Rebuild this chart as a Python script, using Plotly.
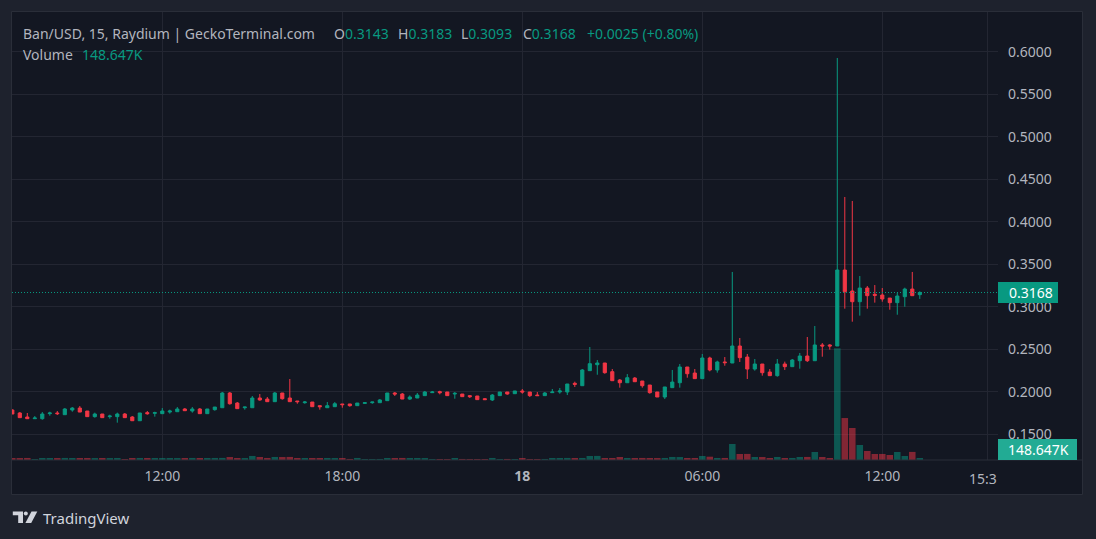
import plotly.graph_objects as go
import pandas as pd

# ---------------- data (15-minute candles, Ban/USD) ----------------
bar_times = pd.date_range("2024-06-17 07:00", periods=122, freq="15min")

opens = [
    0.1786, 0.1751, 0.1704, 0.1684, 0.1684, 0.1743, 0.1751, 0.1731, 0.1786, 0.1809,
    0.1774, 0.1708, 0.1739, 0.1708, 0.1708, 0.1739, 0.1704, 0.1660, 0.1755, 0.1747,
    0.1743, 0.1762, 0.1766, 0.1798, 0.1774, 0.1798, 0.1743, 0.1790, 0.1813, 0.1986,
    0.1868, 0.1813, 0.1813, 0.1927, 0.1915, 0.1884, 0.1986, 0.1927, 0.1892, 0.1872,
    0.1880, 0.1837, 0.1813, 0.1825, 0.1857, 0.1857, 0.1837, 0.1864, 0.1872, 0.1872,
    0.1896, 0.1986, 0.1974, 0.1915, 0.1927, 0.1955, 0.1990, 0.2002, 0.1998, 0.1974,
    0.1974, 0.1955, 0.1951, 0.1919, 0.1904, 0.1955, 0.1998, 0.1978, 0.2010, 0.1998,
    0.1962, 0.1955, 0.1990, 0.1998, 0.1998, 0.2100, 0.2072, 0.2249, 0.2319, 0.2339,
    0.2237, 0.2139, 0.2107, 0.2162, 0.2127, 0.2080, 0.1998, 0.1939, 0.2049, 0.2107,
    0.2292, 0.2221, 0.2155, 0.2398, 0.2257, 0.2351, 0.2339, 0.2539, 0.2409, 0.2268,
    0.2327, 0.2233, 0.2190, 0.2327, 0.2296, 0.2366, 0.2421, 0.2366, 0.2551, 0.2551,
    0.2539, 0.3433, 0.3186, 0.3060, 0.3221, 0.3147, 0.3139, 0.3103, 0.3049, 0.3119,
    0.3209, 0.3143,
]
highs = [
    0.1794, 0.1762, 0.1751, 0.1715, 0.1762, 0.1766, 0.1774, 0.1809, 0.1821, 0.1833,
    0.1774, 0.1755, 0.1739, 0.1731, 0.1755, 0.1751, 0.1715, 0.1751, 0.1774, 0.1766,
    0.1809, 0.1790, 0.1821, 0.1809, 0.1821, 0.1809, 0.1798, 0.1821, 0.1998, 0.1998,
    0.1880, 0.1821, 0.1951, 0.1974, 0.1939, 0.1998, 0.1986, 0.2151, 0.1892, 0.1892,
    0.1880, 0.1837, 0.1880, 0.1880, 0.1857, 0.1857, 0.1868, 0.1880, 0.1880, 0.1915,
    0.1986, 0.1998, 0.1986, 0.1958, 0.1986, 0.2010, 0.2010, 0.2013, 0.1998, 0.1998,
    0.1974, 0.1962, 0.1951, 0.1927, 0.1974, 0.1998, 0.1998, 0.2010, 0.2033, 0.1998,
    0.1998, 0.1998, 0.2033, 0.2045, 0.2092, 0.2119, 0.2268, 0.2527, 0.2374, 0.2339,
    0.2268, 0.2151, 0.2209, 0.2174, 0.2127, 0.2080, 0.1998, 0.2057, 0.2257, 0.2327,
    0.2292, 0.2268, 0.2445, 0.2413, 0.2366, 0.2409, 0.3410, 0.2633, 0.2445, 0.2386,
    0.2327, 0.2268, 0.2386, 0.2355, 0.2386, 0.2457, 0.2645, 0.2774, 0.2574, 0.2562,
    0.5927, 0.4292, 0.4245, 0.3362, 0.3245, 0.3256, 0.3221, 0.3103, 0.3166, 0.3225,
    0.3410, 0.3183,
]
lows = [
    0.1739, 0.1696, 0.1684, 0.1684, 0.1672, 0.1719, 0.1727, 0.1731, 0.1766, 0.1762,
    0.1708, 0.1696, 0.1696, 0.1684, 0.1637, 0.1696, 0.1660, 0.1660, 0.1731, 0.1708,
    0.1743, 0.1743, 0.1766, 0.1778, 0.1755, 0.1743, 0.1743, 0.1778, 0.1813, 0.1849,
    0.1802, 0.1790, 0.1813, 0.1896, 0.1884, 0.1884, 0.1908, 0.1884, 0.1860, 0.1860,
    0.1825, 0.1790, 0.1813, 0.1825, 0.1813, 0.1825, 0.1837, 0.1860, 0.1860, 0.1872,
    0.1896, 0.1951, 0.1915, 0.1904, 0.1927, 0.1955, 0.1990, 0.1970, 0.1955, 0.1919,
    0.1943, 0.1927, 0.1908, 0.1908, 0.1892, 0.1955, 0.1966, 0.1978, 0.1978, 0.1939,
    0.1955, 0.1955, 0.1990, 0.1978, 0.1962, 0.2057, 0.2072, 0.2249, 0.2201, 0.2213,
    0.2131, 0.2049, 0.2107, 0.2119, 0.2049, 0.1978, 0.1939, 0.1915, 0.2049, 0.2049,
    0.2166, 0.2155, 0.2155, 0.2241, 0.2225, 0.2307, 0.2339, 0.2351, 0.2151, 0.2249,
    0.2190, 0.2190, 0.2178, 0.2257, 0.2296, 0.2272, 0.2351, 0.2366, 0.2413, 0.2496,
    0.2539, 0.2978, 0.2825, 0.2896, 0.2978, 0.3049, 0.3060, 0.2966, 0.2907, 0.3001,
    0.3131, 0.3093,
]
closes = [
    0.1739, 0.1696, 0.1684, 0.1692, 0.1739, 0.1751, 0.1743, 0.1798, 0.1809, 0.1762,
    0.1708, 0.1739, 0.1696, 0.1715, 0.1739, 0.1696, 0.1660, 0.1751, 0.1743, 0.1755,
    0.1774, 0.1774, 0.1798, 0.1778, 0.1798, 0.1743, 0.1798, 0.1821, 0.1986, 0.1860,
    0.1802, 0.1821, 0.1927, 0.1904, 0.1884, 0.1986, 0.1919, 0.1884, 0.1884, 0.1880,
    0.1825, 0.1825, 0.1837, 0.1860, 0.1849, 0.1837, 0.1868, 0.1872, 0.1880, 0.1904,
    0.1986, 0.1974, 0.1915, 0.1939, 0.1962, 0.1998, 0.1998, 0.1990, 0.1955, 0.1982,
    0.1943, 0.1943, 0.1908, 0.1908, 0.1962, 0.1998, 0.1974, 0.2010, 0.1998, 0.1955,
    0.1955, 0.1986, 0.1998, 0.2010, 0.2092, 0.2088, 0.2257, 0.2331, 0.2339, 0.2225,
    0.2131, 0.2107, 0.2166, 0.2119, 0.2072, 0.1990, 0.1939, 0.2057, 0.2115, 0.2292,
    0.2213, 0.2155, 0.2398, 0.2257, 0.2351, 0.2343, 0.2539, 0.2402, 0.2268, 0.2327,
    0.2225, 0.2190, 0.2327, 0.2296, 0.2374, 0.2421, 0.2366, 0.2551, 0.2539, 0.2539,
    0.3433, 0.3178, 0.3060, 0.3221, 0.3131, 0.3135, 0.3092, 0.3049, 0.3127, 0.3209,
    0.3131, 0.3168,
]
volumes_k = [
    150, 146, 152, 74, 148, 151, 145, 153, 149, 147,
    150, 144, 151, 146, 149, 76, 148, 152, 147, 150,
    148, 151, 146, 150, 153, 147, 149, 152, 155, 221,
    150, 146, 301, 224, 152, 226, 219, 228, 149, 147,
    151, 148, 150, 146, 149, 77, 152, 73, 75, 78,
    150, 147, 153, 148, 151, 146, 74, 76, 72, 149,
    77, 75, 73, 76, 152, 74, 78, 75, 151, 76,
    74, 77, 148, 150, 153, 149, 152, 298, 304, 150,
    147, 223, 151, 148, 153, 149, 146, 152, 226, 221,
    150, 148, 296, 245, 149, 152, 1190, 446, 452, 224,
    221, 150, 226, 147, 152, 223, 228, 596, 222, 149,
    8300, 3120, 2380, 1115, 668, 447, 450, 372, 594, 298,
    601, 148.647,
]

x_tickvals = ["2024-06-17 12:00", "2024-06-17 18:00", "2024-06-18 00:00",
              "2024-06-18 06:00", "2024-06-18 12:00", "2024-06-18 15:30"]
x_ticktext = ["12:00", "18:00", "<b>18</b>", "06:00", "12:00", ""]
price_tickvals = [0.15, 0.20, 0.25, 0.30, 0.35, 0.40, 0.45, 0.50, 0.55, 0.60]
price_ticktext = ["0.1500", "0.2000", "0.2500", "0.3000", "0.3500",
                  "0.4000", "0.4500", "0.5000", "0.5500", "0.6000"]
last_price = 0.3168
last_volume_label = "148.647K"

# ---------------- styling ----------------
UP = "#089981"
DOWN = "#F23645"
UP_VOL = "rgba(8,153,129,0.5)"
DOWN_VOL = "rgba(242,54,69,0.5)"
TXT = "#b2b5be"
GRID = "#232632"
BORDER = "#2a2e39"
BG = "#131722"
OUTER = "#1e222d"
FONT = "Noto Sans"
FS = 14

W, H = 1096, 539
PL, PR, PT, PB = 12, 998, 12, 460


def fx(px):
    return (px - PL) / (PR - PL)


def fy(py):
    return (PB - py) / (PB - PT)


vol_colors = [UP_VOL if c >= o else DOWN_VOL for o, c in zip(opens, closes)]

fig = go.Figure()
fig.add_trace(go.Bar(
    x=bar_times, y=volumes_k, marker=dict(color=vol_colors, line=dict(width=0)),
    width=15 * 60 * 1000 * 0.87, yaxis="y", hoverinfo="skip", showlegend=False,
))
fig.add_trace(go.Candlestick(
    x=bar_times, open=opens, high=highs, low=lows, close=closes,
    increasing=dict(line=dict(color=UP, width=1), fillcolor=UP),
    decreasing=dict(line=dict(color=DOWN, width=1), fillcolor=DOWN),
    whiskerwidth=0, yaxis="y2", showlegend=False, hoverinfo="skip",
))

shapes = [
    # chart frame
    dict(type="rect", xref="paper", yref="paper", x0=fx(11.5), x1=fx(1082.5),
         y0=fy(494.5), y1=fy(11.5), fillcolor=BG, line=dict(color=BORDER, width=1),
         layer="below"),
    # time axis separator
    dict(type="line", xref="paper", yref="paper", x0=fx(12), x1=fx(1082),
         y0=fy(460), y1=fy(460), line=dict(color=BORDER, width=1), layer="above"),
    # last price dotted line
    dict(type="line", xref="paper", yref="y2", x0=0, x1=1, y0=last_price, y1=last_price,
         line=dict(color=UP, width=1, dash="1px,2px"), layer="above"),
    # last price label box
    dict(type="rect", xref="paper", yref="y2", x0=fx(998), x1=fx(1058),
         ysizemode="pixel", yanchor=last_price, y0=-10.5, y1=10.5,
         fillcolor=UP, line=dict(width=0), layer="above"),
    # volume label box
    dict(type="rect", xref="paper", yref="paper", x0=fx(998), x1=fx(1077),
         y0=fy(460), y1=fy(439), fillcolor="#22ab94", line=dict(width=0), layer="above"),
    # TradingView logo: T
    dict(type="path", xref="paper", yref="paper",
         path="M {a},{b} L {c},{b} L {c},{d} L {e},{d} L {e},{f} L {a},{f} Z".format(
             a=fx(12.8), b=fy(511.5), c=fx(23), d=fy(523), e=fx(18.2), f=fy(515.2)),
         fillcolor="#d1d4dc", line=dict(width=0), layer="above"),
    # logo dot
    dict(type="circle", xref="paper", yref="paper", x0=fx(23.8), x1=fx(27.8),
         y0=fy(515.5), y1=fy(511.5), fillcolor="#d1d4dc", line=dict(width=0), layer="above"),
    # logo slash
    dict(type="path", xref="paper", yref="paper",
         path="M {a},{b} L {c},{b} L {d},{e} L {f},{e} Z".format(
             a=fx(31.5), b=fy(511.5), c=fx(37.3), d=fx(31.2), e=fy(523), f=fx(25.4)),
         fillcolor="#d1d4dc", line=dict(width=0), layer="above"),
]

g = UP


def seg(label, value):
    return f"{label}<span style='color:{g}'>{value}</span>"


annotations = [
    dict(x=fx(21), y=fy(33), text="Ban/USD, 15, Raydium | GeckoTerminal.com"),
    dict(x=fx(332), y=fy(33), text=seg("O", "0.3143")),
    dict(x=fx(396), y=fy(33), text=seg("H", "0.3183")),
    dict(x=fx(459), y=fy(33), text=seg("L", "0.3093")),
    dict(x=fx(521), y=fy(33), text=seg("C", "0.3168")),
    dict(x=fx(585), y=fy(33), text=f"<span style='color:{g}'>+0.0025 (+0.80%)</span>"),
    dict(x=fx(21), y=fy(54), text="Volume"),
    dict(x=fx(79.5), y=fy(54), text=f"<span style='color:{g}'>{last_volume_label}</span>"),
    dict(x=fx(967), y=fy(478), text="15:3"),
    dict(x=fx(40.5), y=fy(517.5), text="TradingView", font=dict(family=FONT, size=15, color="#d1d4dc")),
]
for a in annotations:
    a.update(xref="paper", yref="paper", showarrow=False, xanchor="left", yanchor="middle")
    a.setdefault("font", dict(family=FONT, size=FS, color=TXT))

annotations.append(dict(x=fx(1030.5), y=last_price, xref="paper", yref="y2",
                        text=f"{last_price:.4f}", showarrow=False, xanchor="center",
                        yanchor="middle", font=dict(family=FONT, size=FS, color="#ffffff")))
annotations.append(dict(x=fx(1038.5), y=fy(449.5), xref="paper", yref="paper",
                        text=last_volume_label, showarrow=False, xanchor="center",
                        yanchor="middle", font=dict(family=FONT, size=FS, color="#ffffff")))

fig.update_layout(
    width=W, height=H,
    margin=dict(l=PL, r=W - PR, t=PT, b=H - PB, pad=0),
    paper_bgcolor=OUTER, plot_bgcolor="rgba(0,0,0,0)",
    font=dict(family=FONT, size=FS, color=TXT),
    showlegend=False, hovermode=False, dragmode=False,
    boxgap=0.4,
    xaxis=dict(
        type="date", range=["2024-06-17 06:59:24", "2024-06-18 15:51:25"],
        tickvals=x_tickvals, ticktext=x_ticktext, showgrid=True, gridcolor=GRID,
        gridwidth=1, zeroline=False, showline=False, ticks="",
        tickfont=dict(family=FONT, size=FS, color=TXT), ticklabelstandoff=6,
        rangeslider=dict(visible=False), fixedrange=True,
    ),
    yaxis=dict(range=[0, 33300], visible=False, showgrid=False, fixedrange=True),
    yaxis2=dict(
        overlaying="y", side="right", anchor="x", range=[0.1198, 0.6468],
        tickvals=price_tickvals, ticktext=price_ticktext, showgrid=True,
        gridcolor=GRID, gridwidth=1, zeroline=False, showline=False, ticks="",
        tickfont=dict(family=FONT, size=FS, color=TXT), ticklabelstandoff=9,
        fixedrange=True,
    ),
    shapes=shapes,
    annotations=annotations,
)

fig.write_html("out.html")
